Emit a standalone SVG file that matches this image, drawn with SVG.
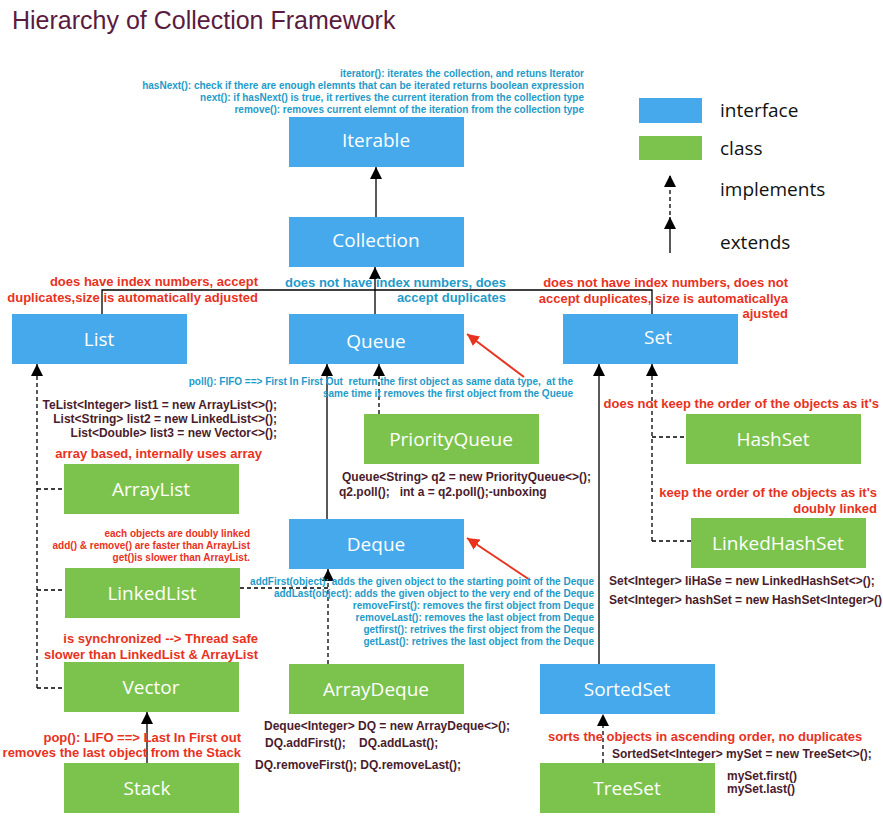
<svg xmlns="http://www.w3.org/2000/svg" width="883" height="826" viewBox="0 0 883 826">
<defs>
<marker id="ah" viewBox="0 0 12 12" refX="12" refY="6" markerWidth="12" markerHeight="12" markerUnits="userSpaceOnUse" orient="auto"><path d="M0,0 L12,6 L0,12 z" fill="#000"/></marker>
<marker id="ahr" viewBox="0 0 12 12" refX="12" refY="6" markerWidth="12" markerHeight="12" markerUnits="userSpaceOnUse" orient="auto"><path d="M0,0 L12,6 L0,12 z" fill="#e8321e"/></marker>
</defs>
<style>
.i{fill:#45a9ec}
.c{fill:#7cc34d}
.n{font-family:"Open Sans","Noto Sans",sans-serif;font-size:19px;fill:#fff;text-anchor:middle}
.b{font-family:"Liberation Sans",Arial,sans-serif;font-weight:bold;font-size:10px;fill:#1f9bc9}
.r{font-family:"Liberation Sans",Arial,sans-serif;font-weight:bold;font-size:13px;fill:#e8321e}
.rs{font-family:"Liberation Sans",Arial,sans-serif;font-weight:bold;font-size:10px;fill:#e8321e}
.m{font-family:"Liberation Sans",Arial,sans-serif;font-weight:bold;font-size:12px;fill:#4a1c2c}
.e{text-anchor:end}
.s{stroke:#000;stroke-width:1.3;fill:none}
.d{stroke:#000;stroke-width:1.3;fill:none;stroke-dasharray:4,3}
.lg{font-family:"Open Sans","Noto Sans",sans-serif;font-size:19px;fill:#111}
</style>
<rect width="883" height="826" fill="#fff"/>
<text x="12" y="29" style="font-family:'Liberation Sans',Arial,sans-serif;font-size:25px;fill:#5a1b40">Hierarchy of Collection Framework</text>

<g id="legend">
<rect x="639" y="98" width="63" height="25" class="i"/>
<text x="720" y="117" class="lg">interface</text>
<rect x="639" y="136" width="63" height="24" class="c"/>
<text x="720" y="155" class="lg">class</text>
<line x1="670" y1="215" x2="670" y2="175" class="d" marker-end="url(#ah)"/>
<text x="720" y="196" class="lg">implements</text>
<line x1="670" y1="253" x2="670" y2="217" class="s" marker-end="url(#ah)"/>
<text x="720" y="249" class="lg">extends</text>
</g>

<g id="connectors">
<line x1="376" y1="217" x2="376" y2="167" class="s" marker-end="url(#ah)"/>
<polyline points="102,314 102,290 652,290 652,314" class="s"/>
<line x1="375" y1="314" x2="375" y2="267" class="s" marker-end="url(#ah)"/>
<line x1="327" y1="519" x2="327" y2="364" class="s" marker-end="url(#ah)"/>
<line x1="379" y1="414" x2="379" y2="364" class="d" marker-end="url(#ah)"/>
<line x1="37" y1="688" x2="37" y2="364" class="d" marker-end="url(#ah)"/>
<line x1="37" y1="489" x2="64" y2="489" class="d"/>
<line x1="37" y1="590" x2="65" y2="590" class="d"/>
<line x1="37" y1="688" x2="64" y2="688" class="d"/>
<line x1="147" y1="763" x2="147" y2="712" class="s" marker-end="url(#ah)"/>
<line x1="328" y1="664" x2="328" y2="569" class="d" marker-end="url(#ah)"/>
<line x1="240" y1="588" x2="328" y2="588" class="d"/>
<line x1="652" y1="541" x2="652" y2="364" class="d" marker-end="url(#ah)"/>
<line x1="652" y1="437" x2="686" y2="437" class="d"/>
<line x1="652" y1="541" x2="691" y2="541" class="d"/>
<line x1="599" y1="664" x2="599" y2="364" class="s" marker-end="url(#ah)"/>
<line x1="603" y1="763" x2="603" y2="714" class="d" marker-end="url(#ah)"/>
<line x1="524" y1="377" x2="467" y2="334" stroke="#e8321e" stroke-width="2" marker-end="url(#ahr)"/>
<line x1="530" y1="580" x2="467" y2="538" stroke="#e8321e" stroke-width="2" marker-end="url(#ahr)"/>
</g>

<g id="Iterable"><rect x="289" y="117" width="175" height="50" class="i"/><text x="376" y="147" class="n">Iterable</text></g>
<g id="Collection"><rect x="289" y="217" width="175" height="50" class="i"/><text x="376" y="247" class="n">Collection</text></g>
<g id="List"><rect x="12" y="314" width="175" height="50" class="i"/><text x="99" y="346" class="n">List</text></g>
<g id="Queue"><rect x="289" y="314" width="175" height="50" class="i"/><text x="376" y="348" class="n">Queue</text></g>
<g id="Set"><rect x="563" y="314" width="175" height="50" class="i"/><text x="658" y="344" class="n">Set</text></g>
<g id="PriorityQueue"><rect x="364" y="414" width="175" height="50" class="c"/><text x="451" y="446" class="n">PriorityQueue</text></g>
<g id="ArrayList"><rect x="64" y="464" width="175" height="50" class="c"/><text x="151" y="496" class="n">ArrayList</text></g>
<g id="Deque"><rect x="289" y="519" width="175" height="50" class="i"/><text x="376" y="551" class="n">Deque</text></g>
<g id="LinkedList"><rect x="65" y="568" width="175" height="50" class="c"/><text x="152" y="600" class="n">LinkedList</text></g>
<g id="HashSet"><rect x="686" y="414" width="175" height="50" class="c"/><text x="773" y="446" class="n">HashSet</text></g>
<g id="LinkedHashSet"><rect x="691" y="518" width="175" height="50" class="c"/><text x="778" y="550" class="n">LinkedHashSet</text></g>
<g id="Vector"><rect x="64" y="662" width="175" height="50" class="c"/><text x="151" y="694" class="n">Vector</text></g>
<g id="ArrayDeque"><rect x="289" y="664" width="175" height="50" class="c"/><text x="376" y="696" class="n">ArrayDeque</text></g>
<g id="SortedSet"><rect x="540" y="664" width="175" height="50" class="i"/><text x="627" y="696" class="n">SortedSet</text></g>
<g id="Stack"><rect x="64" y="763" width="175" height="50" class="c"/><text x="147" y="795" class="n">Stack</text></g>
<g id="TreeSet"><rect x="540" y="763" width="175" height="50" class="c"/><text x="627" y="795" class="n">TreeSet</text></g>

<g id="labels">
<text x="584" y="77" class="b e">iterator(): iterates the collection, and retuns Iterator</text>
<text x="584" y="89" class="b e">hasNext(): check if there are enough elemnts that can be iterated returns boolean expression</text>
<text x="584" y="101" class="b e">next(): if hasNext() is true, it rertives the current iteration from the collection type</text>
<text x="584" y="113" class="b e">remove(): removes current elemnt of the iteration from the collection type</text>

<text x="258" y="286" class="r e">does have index numbers, accept</text>
<text x="258" y="302" class="r e">duplicates,size is automatically adjusted</text>
<text x="506" y="287" class="b e" style="font-size:13px">does not have index numbers, does</text>
<text x="506" y="302" class="b e" style="font-size:13px">accept duplicates</text>
<text x="788" y="287" class="r e">does not have index numbers, does not</text>
<text x="788" y="303" class="r e">accept duplicates, size is automaticallya</text>
<text x="788" y="318" class="r e">ajusted</text>

<text x="573" y="385" class="b e" xml:space="preserve">poll(): FIFO ==&gt; First In First Out  return the first object as same data type,  at the</text>
<text x="573" y="397" class="b e">same time it removes the first object from the Queue</text>

<text x="277" y="409" class="m e">TeList&lt;Integer&gt; list1 = new ArrayList&lt;&gt;();</text>
<text x="277" y="423" class="m e">List&lt;String&gt; list2 = new LinkedList&lt;&gt;();</text>
<text x="277" y="437" class="m e">List&lt;Double&gt; list3 = new Vector&lt;&gt;();</text>
<text x="262" y="458" class="r e">array based, internally uses array</text>

<text x="342" y="481" class="m">Queue&lt;String&gt; q2 = new PriorityQueue&lt;&gt;();</text>
<text x="339" y="496" class="m" xml:space="preserve">q2.poll();   int a = q2.poll();-unboxing</text>

<text x="250" y="537" class="rs e">each objects are doubly linked</text>
<text x="250" y="549" class="rs e">add() &amp; remove() are faster than ArrayList</text>
<text x="250" y="561" class="rs e">get()is slower than ArrayList.</text>

<text x="594" y="585" class="b e">addFirst(object): adds the given object to the starting point of the Deque</text>
<text x="594" y="597" class="b e">addLast(object): adds the given object to the very end of the Deque</text>
<text x="594" y="609" class="b e">removeFirst(): removes the first object from Deque</text>
<text x="594" y="621" class="b e">removeLast(): removes the last object from Deque</text>
<text x="594" y="633" class="b e">getfirst(): retrives the first object from the Deque</text>
<text x="594" y="645" class="b e">getLast(): retrives the last object from the Deque</text>

<text x="258" y="643" class="r e">is synchronized --&gt; Thread safe</text>
<text x="258" y="659" class="r e">slower than LinkedList &amp; ArrayList</text>

<text x="879" y="408" class="r e">does not keep the order of the objects as it's</text>
<text x="877" y="497" class="r e">keep the order of the objects as it's</text>
<text x="877" y="513" class="r e">doubly linked</text>
<text x="609" y="585" class="m">Set&lt;Integer&gt; liHaSe = new LinkedHashSet&lt;&gt;();</text>
<text x="609" y="604" class="m">Set&lt;Integer&gt; hashSet = new HashSet&lt;Integer&gt;()</text>

<text x="241" y="742" class="r e">pop(): LIFO ==&gt; Last In First out</text>
<text x="241" y="757" class="r e">removes the last object from the Stack</text>

<text x="264" y="730" class="m">Deque&lt;Integer&gt; DQ = new ArrayDeque&lt;&gt;();</text>
<text x="265" y="747" class="m" xml:space="preserve">DQ.addFirst();    DQ.addLast();</text>
<text x="255" y="769" class="m">DQ.removeFirst(); DQ.removeLast();</text>

<text x="548" y="741" class="r">sorts the objects in ascending order, no duplicates</text>
<text x="612" y="758" class="m">SortedSet&lt;Integer&gt; mySet = new TreeSet&lt;&gt;();</text>
<text x="727" y="780" class="m">mySet.first()</text>
<text x="727" y="793" class="m">mySet.last()</text>
</g>
</svg>
